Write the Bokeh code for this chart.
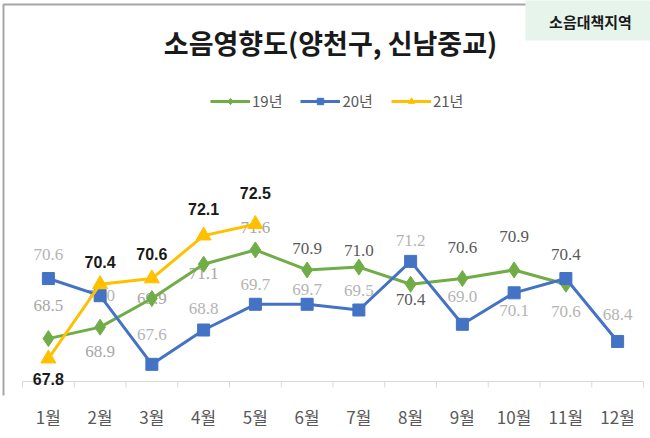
from bokeh.plotting import figure
from bokeh.models import (Range1d, ColumnDataSource, LabelSet, Label, BoxAnnotation,
                          Legend, LegendItem, FixedTicker)
from bokeh.core.properties import value
from bokeh.embed import file_html
from bokeh.resources import INLINE

# ---------------- data ----------------
months = ["1월", "2월", "3월", "4월", "5월", "6월", "7월", "8월", "9월", "10월", "11월", "12월"]
y19 = [68.5, 68.9, 69.9, 71.1, 71.6, 70.9, 71.0, 70.4, 70.6, 70.9, 70.4]
y20 = [70.6, 70.0, 67.6, 68.8, 69.7, 69.7, 69.5, 71.2, 69.0, 70.1, 70.6, 68.4]
y21 = [67.8, 70.4, 70.6, 72.1, 72.5]
series_names = ["19년", "20년", "21년"]
title_text = "소음영향도(양천구, 신남중교)"
tag_text = "소음대책지역"
axis_min = 67.0

# ---------------- styles / layout ----------------
C19, C20, C21 = "#70AD47", "#4472C4", "#FFC000"
KR = "Noto Sans CJK KR"
NUM = "Liberation Sans Narrow"
NUMB = "Liberation Sans"
AXC = "#d9d9d9"
# label offsets in screen pixels (positive = up)
off19 = [33, -24, 0, -9, 22, 21, 17, -15, 31, 33, 30]
off20 = [24, 0, 30, 22, 20, 15, 20, 21, 28, -18, -33, 27]
off21 = [-20, 22, 25, 27, 31]
col19 = ["#a6a6a6"] * 5 + ["#595959"] * 6
col20 = ["#b4b4b4"] * 12
col21 = ["#1a1a1a"] * 5

W, H = 650, 438
BB = 43                      # frame bottom at canvas y 395
FW, FH = W, H - BB
PXU = 621 / 12.0             # px per month (category axis spans x 22..643)
PYU = 28.6                   # px per dB
X0 = 0.5 - 22 / PXU
X1 = X0 + FW / PXU
AXIS_Y = 381                 # canvas y of the category axis line
Y0 = axis_min - (FH - AXIS_Y) / PYU
Y1 = Y0 + FH / PYU


def X(px):  # canvas pixel -> data x
    return X0 + px / PXU


def Y(py):  # canvas pixel -> data y
    return Y0 + (FH - py) / PYU


p = figure(width=W, height=H, output_backend="svg", toolbar_location=None,
           x_range=Range1d(X0, X1), y_range=Range1d(Y0, Y1),
           y_axis_location=None, min_border_left=0, min_border_right=0,
           min_border_top=0, min_border_bottom=BB)
p.outline_line_color = None
p.grid.visible = False
p.background_fill_color = "white"
p.border_fill_color = "white"

xs = list(range(1, len(months) + 1))
bounds = [x - 0.5 for x in xs] + [xs[-1] + 0.5]

ax = p.xaxis[0]
ax.ticker = FixedTicker(ticks=xs, minor_ticks=[])
ax.major_label_overrides = {x: m for x, m in zip(xs, months)}
ax.axis_line_color = None
ax.major_tick_line_color = None
ax.minor_tick_line_color = None
ax.major_tick_out = 0
ax.major_tick_in = 0
ax.major_label_standoff = 8
ax.major_label_text_font = KR
ax.major_label_text_font_size = "17px"
ax.major_label_text_color = "#595959"

# chart-area frame (top and left edges visible in the reference)
p.line(x=[X(3), X(3), X(525)], y=[Y(H + 5), Y(4), Y(4)],
       line_color="#a6a6a6", line_width=2)

# category axis line and tick marks between categories
p.segment(x0=[bounds[0]], y0=[axis_min], x1=[bounds[-1]], y1=[axis_min],
          line_color=AXC, line_width=1)
p.segment(x0=bounds, y0=[axis_min] * len(bounds), x1=bounds,
          y1=[axis_min - 6 / PYU] * len(bounds), line_color=AXC, line_width=1)


# ---------------- series ----------------
def series(vals, color, marker, size, offs, cols, bold, level):
    n = len(vals)
    src = ColumnDataSource(dict(x=xs[:n], y=vals, lab=[f"{v:.1f}" for v in vals],
                                dy=offs, c=cols))
    ln = p.line("x", "y", source=src, line_color=color, line_width=3)
    sc = p.scatter("x", "y", source=src, marker=marker, size=size,
                   fill_color=color, line_color=color)
    ls = LabelSet(x="x", y="y", text="lab", source=src, y_offset="dy",
                  text_align="center", text_baseline="middle",
                  text_font=value(NUMB if bold else NUM),
                  text_font_size="16px" if bold else "17px",
                  text_font_style="bold" if bold else "normal",
                  text_color="c", level=level)
    p.add_layout(ls)
    return ln, sc


r19 = series(y19, C19, "diamond", 16, off19, col19, False, "underlay")
r20 = series(y20, C20, "square", 12, off20, col20, False, "underlay")
r21 = series(y21, C21, "triangle", 15, off21, col21, True, "annotation")

legend = Legend(items=[LegendItem(label=series_names[0], renderers=list(r19)),
                       LegendItem(label=series_names[1], renderers=list(r20)),
                       LegendItem(label=series_names[2], renderers=list(r21))],
                orientation="horizontal", location=(210, 284),
                glyph_width=40, glyph_height=16, label_standoff=2, spacing=18,
                padding=0, margin=0, border_line_color=None,
                background_fill_alpha=0,
                label_text_font=KR, label_text_font_size="15px",
                label_text_color="#595959", label_height=16)
p.add_layout(legend, "center")

# ---------------- title and tag ----------------
p.add_layout(BoxAnnotation(left=X(525), right=X(W + 10), top=Y(-10), bottom=Y(40),
                           fill_color="#e6f4ec", fill_alpha=1, line_color=None,
                           level="underlay"))
p.add_layout(Label(x=X(330), y=Y(42), text=title_text, text_font=KR,
                   text_font_size="27px", text_font_style="bold",
                   text_color="#1a1a1a", text_align="center", text_baseline="middle"))
p.add_layout(Label(x=X(590), y=Y(21), text=tag_text, text_font=KR,
                   text_font_size="15px", text_font_style="bold",
                   text_color="#1a1a1a", text_align="center", text_baseline="middle"))

open("out.html", "w").write(file_html(p, INLINE))
